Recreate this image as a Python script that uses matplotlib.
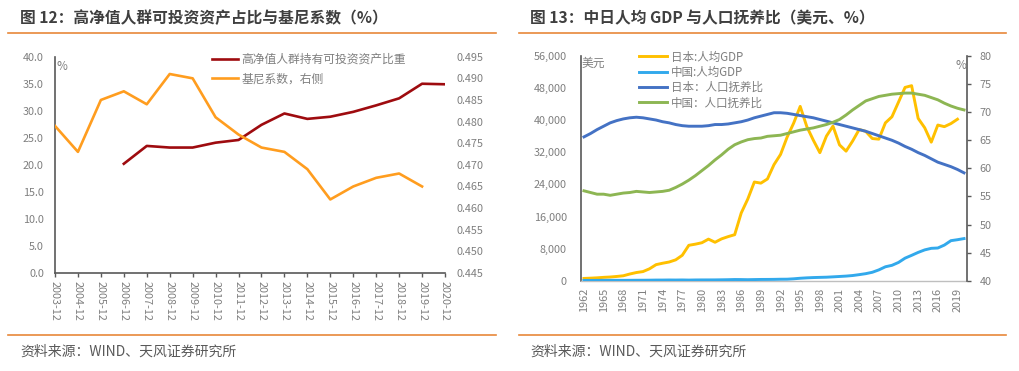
import matplotlib
matplotlib.use('Agg')
from matplotlib import pyplot as plt
from matplotlib.lines import Line2D

plt.rcParams['font.family'] = ['Noto Sans CJK SC', 'DejaVu Sans']
plt.rcParams['axes.unicode_minus'] = False

# ---- chart 12 data ----
periods = ['2003-12', '2004-12', '2005-12', '2006-12', '2007-12', '2008-12',
           '2009-12', '2010-12', '2011-12', '2012-12', '2013-12', '2014-12',
           '2015-12', '2016-12', '2017-12', '2018-12', '2019-12', '2020-12']
hnw_share = [None, None, None, 20.2, 23.5, 23.2, 23.2, 24.1, 24.6, 27.4,
             29.5, 28.5, 28.9, 29.8, 31.0, 32.3, 35.0, 34.9]
gini = [0.479, 0.473, 0.485, 0.487, 0.484, 0.491, 0.490, 0.481, 0.477,
        0.474, 0.473, 0.469, 0.462, 0.465, 0.467, 0.468, 0.465, None]

# ---- chart 13 data ----
years = list(range(1962, 2021))
jp_gdp = [563, 633, 717, 835, 919, 1058, 1228, 1669, 2037, 2272, 2967, 3997,
          4354, 4659, 5198, 6335, 8821, 9105, 9465, 10361, 9578, 10425, 10984,
          11465, 16882, 20355, 24594, 24313, 25359, 28925, 31465, 35766, 39269,
          43440, 38437, 35022, 31903, 36027, 38532, 33846, 32289, 34808, 37689,
          37218, 35434, 35275, 39339, 40855, 44508, 48168, 48603, 40454, 38109,
          34524, 38794, 38387, 39159, 40247, None]
cn_gdp = [70, 74, 85, 98, 104, 97, 91, 100, 113, 119, 132, 157, 160, 178, 165,
          185, 156, 184, 195, 197, 203, 225, 251, 294, 282, 252, 284, 311, 318,
          333, 366, 377, 473, 610, 709, 782, 829, 873, 959, 1053, 1149, 1289,
          1509, 1753, 2099, 2694, 3468, 3832, 4550, 5618, 6317, 7051, 7679,
          8067, 8148, 8879, 9977, 10217, 10500]
jp_ratio = [65.6, 66.2, 66.9, 67.5, 68.1, 68.5, 68.8, 69.0, 69.1, 69.0, 68.8,
            68.6, 68.3, 68.1, 67.8, 67.6, 67.5, 67.5, 67.5, 67.6, 67.8, 67.8,
            67.9, 68.1, 68.3, 68.6, 69.0, 69.3, 69.6, 69.9, 69.9, 69.8, 69.6,
            69.4, 69.2, 69.0, 68.7, 68.4, 68.1, 67.8, 67.5, 67.2, 66.9, 66.6,
            66.2, 65.8, 65.4, 65.0, 64.5, 63.9, 63.4, 62.8, 62.3, 61.7, 61.1,
            60.7, 60.3, 59.8, 59.2]
cn_ratio = [56.0, 55.7, 55.4, 55.4, 55.2, 55.4, 55.6, 55.7, 55.9, 55.8, 55.7,
            55.8, 55.9, 56.1, 56.6, 57.2, 57.9, 58.7, 59.6, 60.5, 61.5, 62.4,
            63.4, 64.2, 64.7, 65.1, 65.3, 65.4, 65.7, 65.8, 65.9, 66.2, 66.5,
            66.8, 67.0, 67.2, 67.5, 67.8, 68.2, 68.7, 69.5, 70.4, 71.2, 72.0,
            72.4, 72.8, 73.0, 73.2, 73.3, 73.4, 73.4, 73.2, 73.0, 72.6, 72.2,
            71.6, 71.1, 70.7, 70.4]

TXT = '#7f7f7f'
AX = '#595959'
ORANGE_RULE = '#E8883A'

fig = plt.figure(figsize=(10.2, 3.71), dpi=100)

# titles, rules, sources
fig.text(20 / 1020, 1 - 18 / 371, '图 12：高净值人群可投资资产占比与基尼系数（%）',
         fontsize=11.3, fontweight='bold', color='#3f3f3f', va='center')
fig.text(530 / 1020, 1 - 18 / 371, '图 13：中日人均 GDP 与人口抚养比（美元、%）',
         fontsize=11.3, fontweight='bold', color='#3f3f3f', va='center')
for x0, x1 in [(8, 496), (519, 1006)]:
    for yy in (33, 335):
        fig.add_artist(Line2D([x0 / 1020, x1 / 1020], [1 - yy / 371, 1 - yy / 371],
                              color=ORANGE_RULE, lw=1.2))
fig.text(20 / 1020, 1 - 352 / 371, '资料来源：WIND、天风证券研究所', fontsize=10,
         color='#595959', va='center')
fig.text(530 / 1020, 1 - 352 / 371, '资料来源：WIND、天风证券研究所', fontsize=10,
         color='#595959', va='center')

# ---- left chart ----
ax = fig.add_axes([55 / 1020, 1 - 273 / 371, 390 / 1020, (273 - 56.7) / 371])
xs = list(range(len(periods)))
hx = [x for x, v in zip(xs, hnw_share) if v is not None]
hv = [v for v in hnw_share if v is not None]
gx = [x for x, v in zip(xs, gini) if v is not None]
gv = [v for v in gini if v is not None]
l1, = ax.plot(hx, hv, color='#9E0B0F', lw=1.9, zorder=3)
ax.set_ylim(0, 40)
ax.set_xlim(0, len(periods) - 1)
ax.set_yticks([i * 5 for i in range(9)])
ax.set_yticklabels(['%.1f' % (i * 5) for i in range(9)])
ax.set_xticks(xs)
ax.set_xticklabels(periods, rotation=-90)
ax.tick_params(axis='y', length=0, pad=8, labelsize=7.8, colors=TXT)
ax.tick_params(axis='x', length=3, width=1, pad=2.5, labelsize=7.8, colors=AX,
               labelcolor=TXT)
for s in ('top', 'right'):
    ax.spines[s].set_visible(False)
for s in ('left', 'bottom'):
    ax.spines[s].set_color(AX)
    ax.spines[s].set_linewidth(1.2)
ax.text(0.005, 0.985, '%', transform=ax.transAxes, fontsize=8.5, color=TXT,
        va='top', ha='left')

ax2 = ax.twinx()
l2, = ax2.plot(gx, gv, color='#FF9D1F', lw=1.9, zorder=2)
ax2.set_ylim(0.445, 0.495)
ax2.set_yticks([0.445 + i * 0.005 for i in range(11)])
ax2.set_yticklabels(['%.3f' % (0.445 + i * 0.005) for i in range(11)])
ax2.tick_params(axis='y', length=0, pad=8, labelsize=7.8, colors=TXT)
for s in ('top', 'right', 'left', 'bottom'):
    ax2.spines[s].set_visible(False)
ax2.legend([l1, l2], ['高净值人群持有可投资资产比重', '基尼系数，右侧'],
           loc='upper left', bbox_to_anchor=(0.39, 1.04), frameon=False,
           fontsize=8.5, labelcolor=TXT, handlelength=2.2, handletextpad=0.3,
           labelspacing=0.55, borderaxespad=0)

# ---- right chart ----
bx = fig.add_axes([580.7 / 1020, 1 - 280.7 / 371, (967.3 - 580.7) / 1020,
                   (280.7 - 56) / 371])
yx = list(range(len(years)))
jx = [x for x, v in zip(yx, jp_gdp) if v is not None]
jv = [v for v in jp_gdp if v is not None]
r1, = bx.plot(jx, jv, color='#FFC000', lw=2.1, zorder=3)
r2, = bx.plot(yx, cn_gdp, color='#32A9EC', lw=2.1, zorder=3)
bx.set_ylim(0, 56000)
bx.set_xlim(-0.5, len(years) - 0.5)
bx.set_yticks(list(range(0, 56001, 8000)))
bx.set_yticklabels(['{:,}'.format(v) for v in range(0, 56001, 8000)])
bx.set_xticks(yx[::3])
bx.set_xticklabels([str(y) for y in years[::3]], rotation=90)
bx.tick_params(axis='y', length=0, pad=10, labelsize=7.8, colors=TXT)
bx.tick_params(axis='x', length=0, pad=5, labelsize=7.8, colors=TXT)
for s in ('top', 'right'):
    bx.spines[s].set_visible(False)
bx.spines['left'].set_color(AX)
bx.spines['left'].set_linewidth(1.2)
bx.spines['bottom'].set_color('#bfbfbf')
bx.spines['bottom'].set_linewidth(1)
bx.text(0.003, 0.995, '美元', transform=bx.transAxes, fontsize=8.5, color=TXT,
        va='top', ha='left')

bx2 = bx.twinx()
r3, = bx2.plot(yx, jp_ratio, color='#4472C4', lw=2.1, zorder=2)
r4, = bx2.plot(yx, cn_ratio, color='#8DB653', lw=2.1, zorder=2)
bx2.set_ylim(40, 80)
bx2.set_yticks(list(range(40, 81, 5)))
bx2.tick_params(axis='y', length=3, width=1, pad=6, labelsize=7.8, colors=AX,
                labelcolor=TXT)
for s in ('top', 'left', 'bottom'):
    bx2.spines[s].set_visible(False)
bx2.spines['right'].set_color(AX)
bx2.spines['right'].set_linewidth(1.2)
bx2.text(0.997, 0.985, '%', transform=bx2.transAxes, fontsize=8.5, color=TXT,
         va='top', ha='right')
bx2.legend([r1, r2, r3, r4], ['日本:人均GDP', '中国:人均GDP', '日本：人口抚养比',
                              '中国：人口抚养比'],
           loc='upper left', bbox_to_anchor=(0.14, 1.045), frameon=False,
           fontsize=8.3, labelcolor=TXT, handlelength=2.4, handletextpad=0.3,
           labelspacing=0.2, borderaxespad=0)

fig.savefig('out.png', dpi=100)
